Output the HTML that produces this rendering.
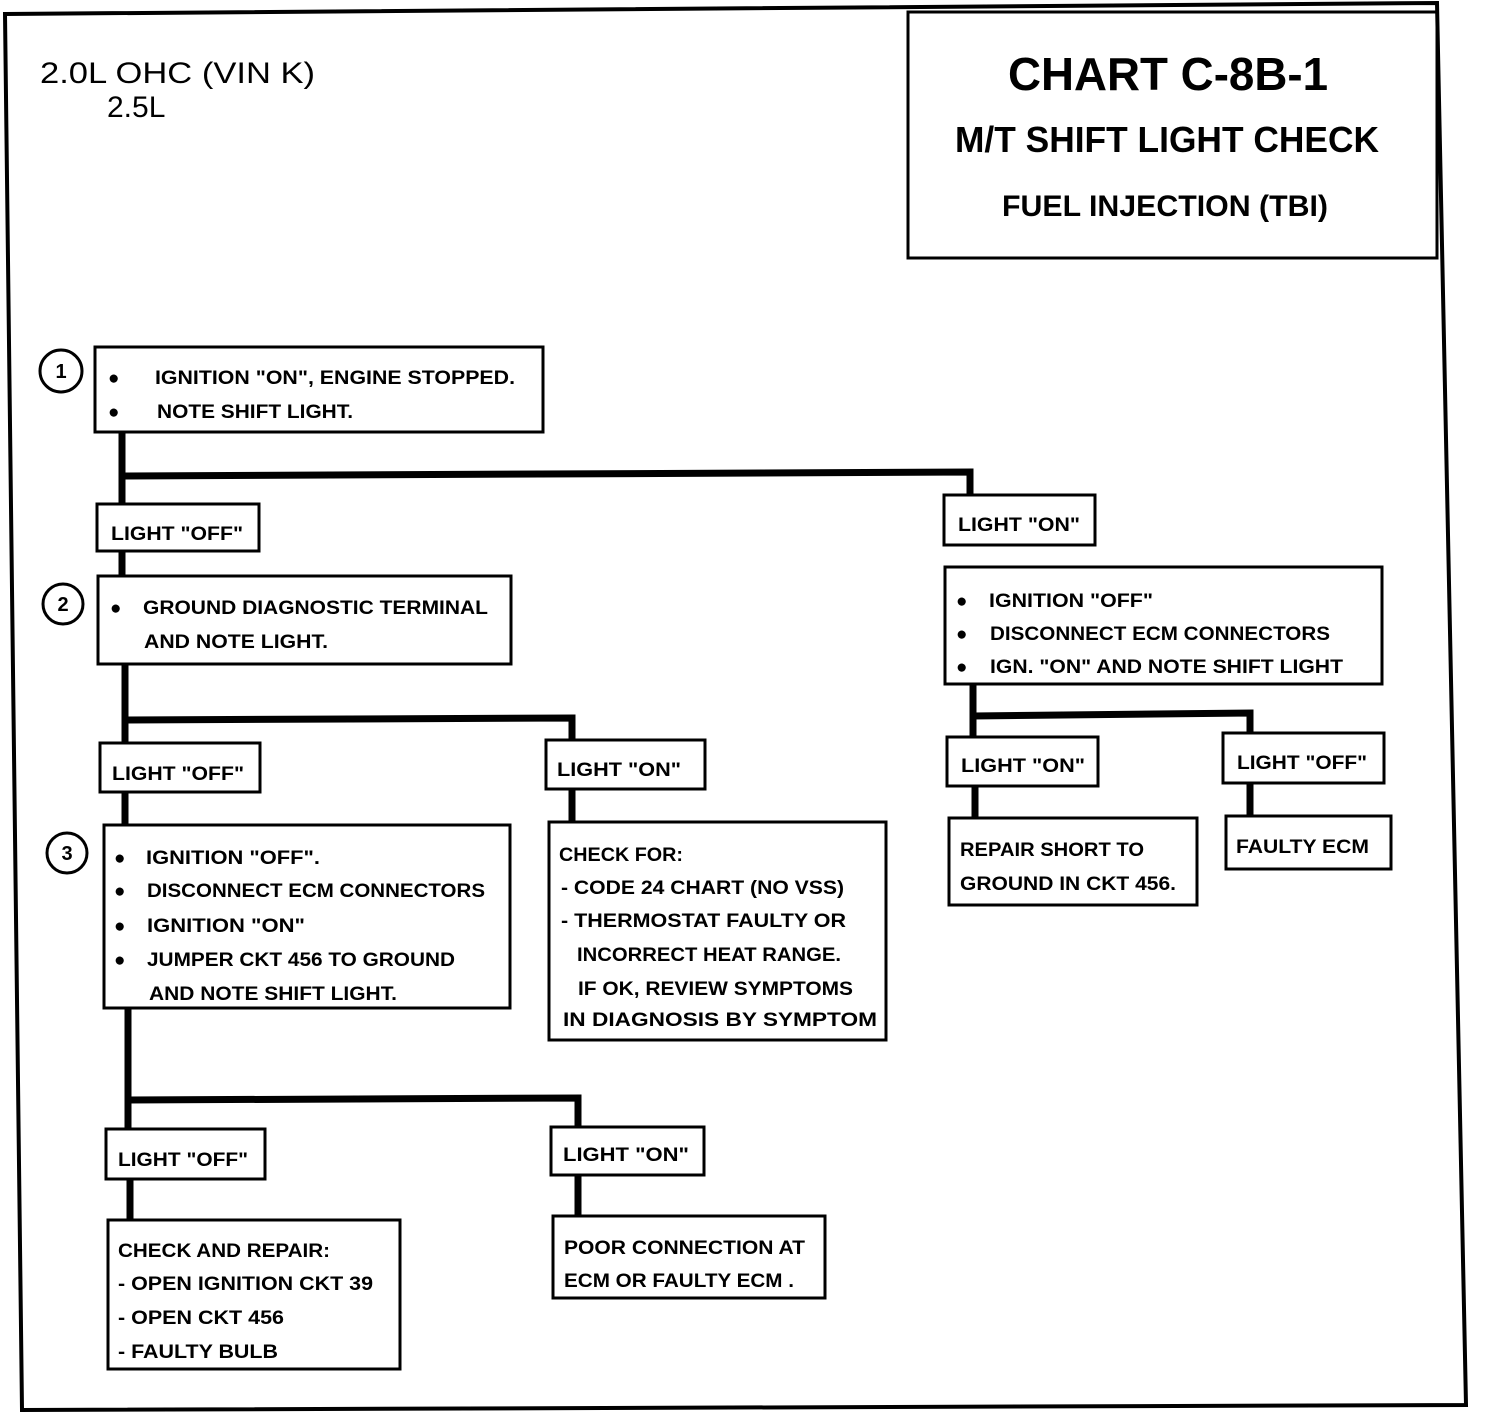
<!DOCTYPE html>
<html><head><meta charset="utf-8"><style>
html,body{margin:0;padding:0;background:#fff;}
svg{display:block;}
text{font-family:"Liberation Sans",sans-serif;font-weight:bold;fill:#000;}
.t{font-size:19px;}
</style></head><body>
<svg width="1504" height="1414" viewBox="0 0 1504 1414" xmlns="http://www.w3.org/2000/svg">
<g fill="none" stroke="#000">
<polygon points="5,14 1437,3 1466,1405 22,1410" stroke-width="4"/>
<rect x="908" y="12" width="529" height="246" stroke-width="3"/>
<g stroke-width="3">
<rect x="95" y="347" width="448" height="85"/>
<rect x="97" y="504" width="162" height="47"/>
<rect x="944" y="495" width="151" height="50"/>
<rect x="98" y="576" width="413" height="88"/>
<rect x="945" y="567" width="437" height="117"/>
<rect x="100" y="743" width="160" height="49"/>
<rect x="546" y="740" width="159" height="49"/>
<rect x="104" y="825" width="406" height="183"/>
<rect x="549" y="822" width="337" height="218"/>
<rect x="947" y="737" width="151" height="49"/>
<rect x="1223" y="733" width="161" height="50"/>
<rect x="949" y="818" width="248" height="87"/>
<rect x="1226" y="816" width="165" height="53"/>
<rect x="106" y="1129" width="159" height="50"/>
<rect x="551" y="1127" width="153" height="48"/>
<rect x="108" y="1220" width="292" height="149"/>
<rect x="553" y="1216" width="272" height="82"/>
<circle cx="61" cy="371" r="21"/>
<circle cx="63" cy="604" r="20"/>
<circle cx="67" cy="853" r="20"/>
</g>
<g stroke-width="7">
<polyline points="122,432 122,504"/>
<polyline points="122,476 970,472 970,495"/>
<polyline points="122,551 122,576"/>
<polyline points="125,664 125,743"/>
<polyline points="125,720 572,718 572,740"/>
<polyline points="125,792 125,825"/>
<polyline points="572,789 572,822"/>
<polyline points="973,684 973,737"/>
<polyline points="973,716 1250,713 1250,733"/>
<polyline points="975,786 975,818"/>
<polyline points="1250,783 1250,816"/>
<polyline points="128,1008 128,1129"/>
<polyline points="128,1100 578,1098 578,1127"/>
<polyline points="130,1179 130,1220"/>
<polyline points="578,1175 578,1216"/>
</g>
</g>
<text x="40" y="83" style="font-size:30px;font-weight:normal" textLength="275" lengthAdjust="spacingAndGlyphs">2.0L OHC (VIN K)</text>
<text x="107" y="117" style="font-size:30px;font-weight:normal">2.5L</text>
<text x="1008" y="90" style="font-size:46px" textLength="320" lengthAdjust="spacingAndGlyphs">CHART C-8B-1</text>
<text x="955" y="152" style="font-size:36px" textLength="424" lengthAdjust="spacingAndGlyphs">M/T SHIFT LIGHT CHECK</text>
<text x="1002" y="216" style="font-size:30px" textLength="326" lengthAdjust="spacingAndGlyphs">FUEL INJECTION (TBI)</text>
<g style="font-size:20px" text-anchor="middle"><text x="61" y="378">1</text><text x="63" y="611">2</text><text x="67" y="860">3</text></g>
<g class="t">
<text x="108" y="384">●</text><text x="155" y="384" textLength="360" lengthAdjust="spacingAndGlyphs">IGNITION "ON", ENGINE STOPPED.</text>
<text x="108" y="418">●</text><text x="157" y="418" textLength="196" lengthAdjust="spacingAndGlyphs">NOTE SHIFT LIGHT.</text>
<text x="111" y="540" textLength="132" lengthAdjust="spacingAndGlyphs">LIGHT "OFF"</text>
<text x="958" y="531" textLength="122" lengthAdjust="spacingAndGlyphs">LIGHT "ON"</text>
<text x="110" y="614">●</text><text x="143" y="614" textLength="345" lengthAdjust="spacingAndGlyphs">GROUND DIAGNOSTIC TERMINAL</text>
<text x="144" y="648" textLength="184" lengthAdjust="spacingAndGlyphs">AND NOTE LIGHT.</text>
<text x="956" y="607">●</text><text x="989" y="607" textLength="164" lengthAdjust="spacingAndGlyphs">IGNITION "OFF"</text>
<text x="956" y="640">●</text><text x="990" y="640" textLength="340" lengthAdjust="spacingAndGlyphs">DISCONNECT ECM  CONNECTORS</text>
<text x="956" y="673">●</text><text x="990" y="673" textLength="353" lengthAdjust="spacingAndGlyphs">IGN. "ON" AND NOTE SHIFT LIGHT</text>
<text x="112" y="780" textLength="132" lengthAdjust="spacingAndGlyphs">LIGHT "OFF"</text>
<text x="557" y="776" textLength="124" lengthAdjust="spacingAndGlyphs">LIGHT "ON"</text>
<text x="961" y="772" textLength="124" lengthAdjust="spacingAndGlyphs">LIGHT "ON"</text>
<text x="1237" y="769" textLength="130" lengthAdjust="spacingAndGlyphs">LIGHT "OFF"</text>
<text x="114" y="864">●</text><text x="146" y="864" textLength="174" lengthAdjust="spacingAndGlyphs">IGNITION "OFF".</text>
<text x="114" y="897">●</text><text x="147" y="897" textLength="338" lengthAdjust="spacingAndGlyphs">DISCONNECT ECM CONNECTORS</text>
<text x="114" y="932">●</text><text x="147" y="932" textLength="158" lengthAdjust="spacingAndGlyphs">IGNITION "ON"</text>
<text x="114" y="966">●</text><text x="147" y="966" textLength="308" lengthAdjust="spacingAndGlyphs">JUMPER CKT 456 TO GROUND</text>
<text x="149" y="1000" textLength="248" lengthAdjust="spacingAndGlyphs">AND NOTE SHIFT LIGHT.</text>
<text x="559" y="861" textLength="124" lengthAdjust="spacingAndGlyphs">CHECK FOR:</text>
<text x="561" y="894" textLength="283" lengthAdjust="spacingAndGlyphs">- CODE 24 CHART  (NO VSS)</text>
<text x="561" y="927" textLength="285" lengthAdjust="spacingAndGlyphs">- THERMOSTAT FAULTY OR</text>
<text x="577" y="961" textLength="264" lengthAdjust="spacingAndGlyphs">INCORRECT HEAT RANGE.</text>
<text x="578" y="995" textLength="275" lengthAdjust="spacingAndGlyphs">IF OK, REVIEW SYMPTOMS</text>
<text x="563" y="1026" textLength="314" lengthAdjust="spacingAndGlyphs">IN  DIAGNOSIS BY SYMPTOM</text>
<text x="960" y="856" textLength="184" lengthAdjust="spacingAndGlyphs">REPAIR SHORT TO</text>
<text x="960" y="890" textLength="216" lengthAdjust="spacingAndGlyphs">GROUND IN CKT 456.</text>
<text x="1236" y="853" textLength="133" lengthAdjust="spacingAndGlyphs">FAULTY ECM</text>
<text x="118" y="1166" textLength="130" lengthAdjust="spacingAndGlyphs">LIGHT "OFF"</text>
<text x="563" y="1161" textLength="126" lengthAdjust="spacingAndGlyphs">LIGHT "ON"</text>
<text x="118" y="1257" textLength="212" lengthAdjust="spacingAndGlyphs">CHECK AND REPAIR:</text>
<text x="118" y="1290" textLength="255" lengthAdjust="spacingAndGlyphs">-  OPEN IGNITION CKT 39</text>
<text x="118" y="1324" textLength="166" lengthAdjust="spacingAndGlyphs">-  OPEN CKT 456</text>
<text x="118" y="1358" textLength="160" lengthAdjust="spacingAndGlyphs">-  FAULTY BULB</text>
<text x="564" y="1254" textLength="241" lengthAdjust="spacingAndGlyphs">POOR CONNECTION AT</text>
<text x="564" y="1287" textLength="230" lengthAdjust="spacingAndGlyphs">ECM OR FAULTY ECM .</text>
</g>
</svg>
</body></html>
